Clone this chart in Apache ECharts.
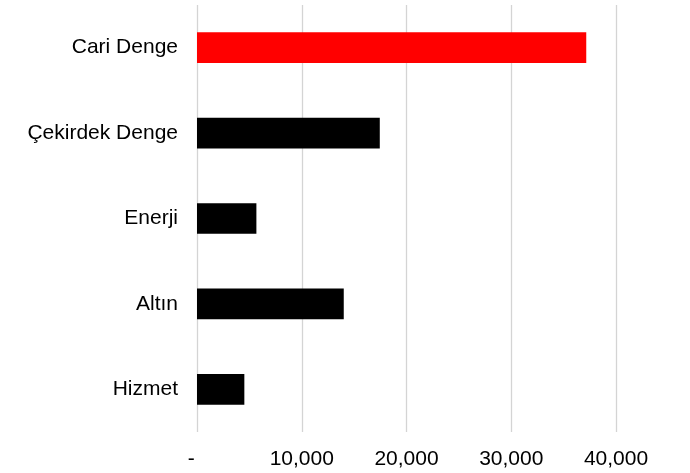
<!DOCTYPE html>
<html>
<head>
<meta charset="utf-8">
<script src="https://cdn.jsdelivr.net/npm/echarts@6/dist/echarts.min.js"></script>
<style>
  html, body { margin: 0; padding: 0; background: #fff; }
  #chart { width: 690px; height: 473px; }
</style>
</head>
<body>
<div id="chart"></div>
<script>
// kalemler (yukaridan asagi)
var categories = ['Cari Denge', 'Çekirdek Denge', 'Enerji', 'Altın', 'Hizmet'];
var values = [37160, 17450, 5670, 14010, 4520];
var barColors = ['#ff0000', '#000000', '#000000', '#000000', '#000000'];
var xTicks = [0, 10000, 20000, 30000, 40000];

var chart = echarts.init(document.getElementById('chart'));

var option = {
  animation: false,
  backgroundColor: '#ffffff',
  grid: {
    left: 197,
    right: 74,
    top: 5,
    bottom: 41
  },
  xAxis: {
    type: 'value',
    min: xTicks[0],
    max: xTicks[xTicks.length - 1],
    interval: 10000,
    axisLine: { show: false },
    axisTick: { show: false },
    splitLine: { lineStyle: { color: '#d4d4d4', width: 1.3 } },
    axisLabel: {
      color: '#000',
      fontFamily: 'Liberation Sans, Arial, sans-serif',
      fontSize: 21,
      margin: 17,
      formatter: function (v) {
        if (v === 0) return '-  ';
        return v.toLocaleString('en-US');
      }
    }
  },
  yAxis: {
    type: 'category',
    inverse: true,
    data: categories,
    axisLine: { show: false },
    axisTick: { show: false },
    axisLabel: {
      color: '#000',
      fontFamily: 'Liberation Sans, Arial, sans-serif',
      fontSize: 21,
      margin: 19
    }
  },
  series: [{
    type: 'bar',
    barWidth: '36%',
    data: values.map(function (v, i) {
      return { value: v, itemStyle: { color: barColors[i] } };
    })
  }]
};

chart.setOption(option);
</script>
</body>
</html>
